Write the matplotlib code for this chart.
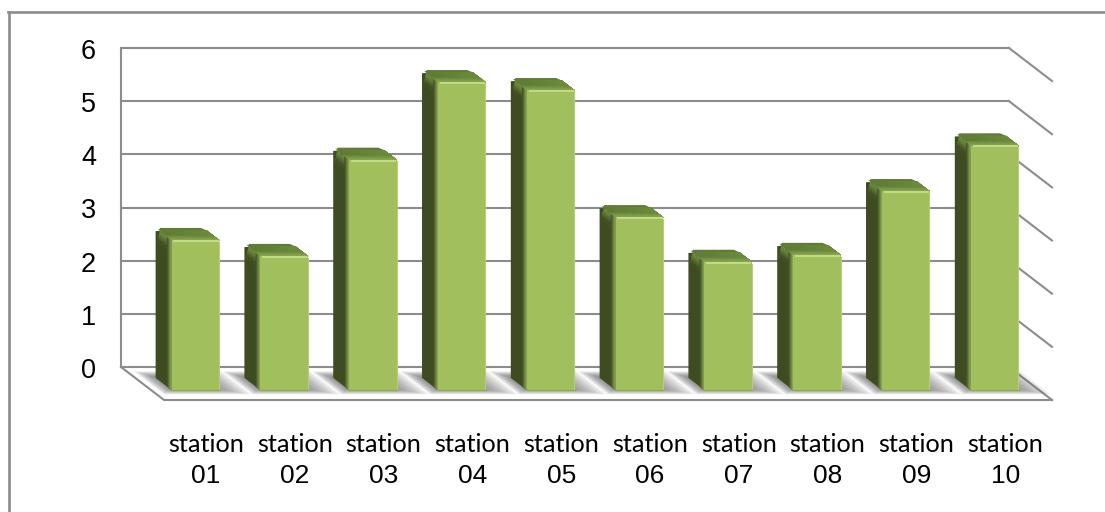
import numpy as np
import matplotlib
matplotlib.use('Agg')
import matplotlib.pyplot as plt
from matplotlib.colors import to_rgb
from matplotlib.lines import Line2D
from matplotlib.patches import Polygon
from matplotlib.transforms import Affine2D

stations = ['01', '02', '03', '04', '05', '06', '07', '08', '09', '10']
values = [2.82, 2.52, 4.33, 5.79, 5.64, 3.25, 2.41, 2.54, 3.74, 4.60]
y_ticks = [0, 1, 2, 3, 4, 5, 6]

GRID = '#8c8c8c'
FRONT = '#a1c05d'
SIDE = '#3f4c22'
TOP = '#6b8a3c'

# oblique depth of the floor, in data units
DEPTH_X = 43 / 88.8
DEPTH_Y = -33 / 53.17
T_BACK = 0.33
T_FRONT = 0.70
BAR_W = 0.54


def blend(c1, c2, f):
    a, b = np.array(to_rgb(c1)), np.array(to_rgb(c2))
    return tuple(a + (b - a) * f)


def pt(x, v, t):
    return (x + t * DEPTH_X, v + t * DEPTH_Y)


def fill(ax, pts, col, zorder):
    ax.add_patch(Polygon(pts, closed=True, fc=col, ec='none', zorder=zorder, clip_on=False))


def fade(ax, a0, a1, b0, b1, colors, zorder):
    # painter's gradient: each band runs on to the b edge so no seams show
    a0, a1, b0, b1 = map(np.array, (a0, a1, b0, b1))
    n = len(colors)
    for k, col in enumerate(colors):
        f = k / n
        fill(ax, [a0 + (b0 - a0) * f, a1 + (b1 - a1) * f, b1, b0], col, zorder)


def floor_shadow(ax, x0, x1):
    # soft shadow on the floor, stacked translucent layers
    layers = 16
    for k in range(layers):
        f = k / (layers - 1)
        left = x0 - 0.15 + 0.15 * f
        right = x1 + 0.30 - 0.32 * f
        t0 = 0.13 + 0.17 * f
        t1 = 0.83 - 0.17 * f
        q = [pt(left, 0, t0), pt(right, 0, t0), pt(right, 0, t1), pt(left, 0, t1)]
        ax.add_patch(Polygon(q, closed=True, fc='#666666', ec='none',
                             alpha=0.065, zorder=2, clip_on=False))


def draw_bar(ax, i, v):
    x0 = i + 0.5 - BAR_W / 2
    x1 = x0 + BAR_W
    ch = 0.06  # rounding of the back corner

    # left side
    fill(ax, [pt(x0, 0, T_BACK), pt(x0, v - ch, T_BACK), pt(x0, v, T_BACK + 0.09),
              pt(x0, v, T_FRONT), pt(x0, 0, T_FRONT)], SIDE, 4)
    upper = [blend('#6b8a3c', SIDE, f) for f in np.linspace(0, 1, 6)]
    fade(ax, pt(x0, v - 0.01, T_BACK + 0.09), pt(x0, v - 0.01, T_FRONT),
         pt(x0, v - 0.22, T_BACK + 0.05), pt(x0, v - 0.22, T_FRONT), upper, 4)
    band = [blend(SIDE, '#8ca655', f) for f in np.linspace(0.05, 1, 7)]
    fade(ax, pt(x0, 0, T_FRONT - 0.11), pt(x0, v, T_FRONT - 0.11),
         pt(x0, 0, T_FRONT), pt(x0, v, T_FRONT), band, 4)

    # top
    fill(ax, [pt(x0 + 0.05, v, T_BACK), pt(x1 - 0.03, v, T_BACK), pt(x1, v, T_BACK + 0.08),
              pt(x1, v, T_FRONT), pt(x0, v, T_FRONT), pt(x0, v, T_BACK + 0.09)], '#5f7b35', 4)
    top_cols = [blend('#5f7b35', TOP, f) for f in np.linspace(0, 1, 8)]
    fade(ax, pt(x0 + 0.01, v, T_BACK + 0.03), pt(x0 + 0.01, v, T_FRONT),
         pt(x1, v, T_BACK + 0.08), pt(x1, v, T_FRONT), top_cols, 4)
    front_cols = [blend(TOP, '#8aa653', f) for f in np.linspace(0, 1, 6)]
    fade(ax, pt(x0, v, T_FRONT - 0.14), pt(x1, v, T_FRONT - 0.14),
         pt(x0, v, T_FRONT), pt(x1, v, T_FRONT), front_cols, 4)

    # front face
    fx0, fy0 = pt(x0, 0, T_FRONT)
    fx1, fy1 = pt(x1, v, T_FRONT)
    fill(ax, [(fx0, fy0), (fx1, fy0), (fx1, fy1), (fx0, fy1)], FRONT, 5)
    ax.plot([fx0 + 0.02, fx1 - 0.01], [fy1 - 0.015, fy1 - 0.015], color='#c8df8b',
            lw=1.3, zorder=6, clip_on=False, solid_capstyle='butt')
    ax.plot([fx1 - 0.005, fx1 - 0.005], [fy0, fy1 - 0.03], color='#b4cf78',
            lw=0.8, zorder=6, clip_on=False)
    ax.plot([fx0, fx1], [fy0 + 0.01, fy0 + 0.01], color='#8eaa50',
            lw=0.9, zorder=6, clip_on=False)


fig = plt.figure(figsize=(11.05, 5.12), dpi=100)
ax = fig.add_axes([121 / 1105, (512 - 367) / 512, 888 / 1105, 319 / 512])
ax.set_xlim(0, 10)
ax.set_ylim(0, 6)
ax.patch.set_visible(False)

for name in ['top', 'right', 'bottom']:
    ax.spines[name].set_visible(False)
ax.spines['left'].set_color(GRID)
ax.spines['left'].set_linewidth(1.5)

ax.set_yticks(y_ticks)
ax.set_yticklabels([str(t) for t in y_ticks], fontfamily='Liberation Sans', fontsize=19.5)
ax.tick_params(axis='y', length=0, pad=18, colors='black')
ax.yaxis.grid(True, color=GRID, lw=1.5, zorder=1)
ax.set_axisbelow(True)
for gl in ax.get_ygridlines():
    gl.set_clip_on(False)
for lab in ax.get_yticklabels():
    lab.set_transform(lab.get_transform() + Affine2D().translate(0, -1))

# right wall and floor outline
for t in y_ticks:
    ax.plot([10, 10 + DEPTH_X], [t, t + DEPTH_Y], color=GRID, lw=1.5, zorder=1, clip_on=False)
ax.plot([0, DEPTH_X, 10 + DEPTH_X], [0, DEPTH_Y, DEPTH_Y], color=GRID, lw=1.5,
        zorder=1, clip_on=False, solid_joinstyle='miter')

for i, v in enumerate(values):
    floor_shadow(ax, i + 0.5 - BAR_W / 2, i + 0.5 + BAR_W / 2)
for i, v in enumerate(values):
    draw_bar(ax, i, v)

# category labels: number on the axis, word above it
centers = [i + 0.957 for i in range(len(stations))]
ax.set_xticks(centers)
ax.set_xticklabels(stations, fontfamily='Liberation Sans', fontsize=19)
ax.tick_params(axis='x', length=0, pad=69.5, colors='black')
for c in centers:
    ax.annotate('station', xy=(c, 0), xycoords=('data', 'axes fraction'),
                xytext=(0, -77), textcoords='offset pixels', ha='center', va='center',
                fontfamily='Lato', fontsize=18.2, color='black')

# outer frame, top and left only
fig.add_artist(Line2D([9 / 1105, 9 / 1105], [0, 500 / 512], color=GRID, lw=1.9))
fig.add_artist(Line2D([8 / 1105, 1], [500 / 512, 500 / 512], color=GRID, lw=1.9))

fig.savefig('out.png', dpi=100)
